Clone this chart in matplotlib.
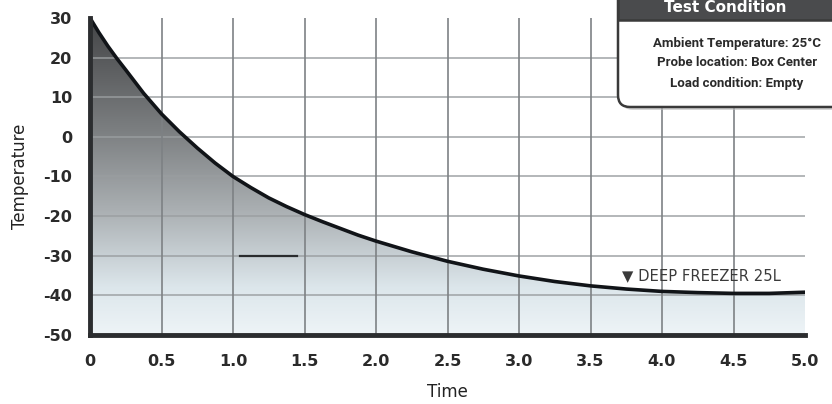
import numpy as np
import matplotlib
matplotlib.use("Agg")
import matplotlib.pyplot as plt
from matplotlib.patches import FancyBboxPatch, Rectangle
from matplotlib.colors import LinearSegmentedColormap

plt.rcParams["axes.unicode_minus"] = False

# ---- data ----
time = [0, 0.0625, 0.125, 0.1875, 0.25, 0.375, 0.5, 0.625, 0.75, 0.875, 1.0, 1.125, 1.25,
        1.375, 1.5, 1.625, 1.75, 1.875, 2.0, 2.25, 2.5, 2.75, 3.0, 3.25, 3.5, 3.75,
        4.0, 4.25, 4.5, 4.75, 5.0]
temperature = [30, 26.3, 22.9, 19.8, 16.9, 11.0, 5.8, 1.3, -2.8, -6.6, -10.0, -12.8, -15.4,
               -17.6, -19.6, -21.4, -23.1, -24.8, -26.3, -29.0, -31.4, -33.4, -35.1, -36.5,
               -37.6, -38.4, -39.0, -39.3, -39.5, -39.5, -39.2]
x_ticks = [0, 0.5, 1.0, 1.5, 2.0, 2.5, 3.0, 3.5, 4.0, 4.5, 5.0]
x_tick_labels = ["0", "0.5", "1.0", "1.5", "2.0", "2.5", "3.0", "3.5", "4.0", "4.5", "5.0"]
y_ticks = [30, 20, 10, 0, -10, -20, -30, -40, -50]
mark_x = [1.05, 1.45]
mark_y = [-30, -30]
series_label = "\u25BC DEEP FREEZER 25L"
box_title = "Test Condition"
box_lines = ["Ambient Temperature: 25\u00B0C", "Probe location: Box Center", "Load condition: Empty"]

W, H = 832, 404
fig = plt.figure(figsize=(W / 100, H / 100), dpi=100)
ax = fig.add_axes([90 / W, 1 - 335 / H, (805 - 90) / W, (335 - 18) / H])
ax.set_xlim(0, 5)
ax.set_ylim(-50, 30)

# gradient fill under curve
cmap = LinearSegmentedColormap.from_list(
    "g", [(0.0, "#eef4f7"), (0.15, "#dce6eb"), (0.4, "#a9aeb1"), (0.65, "#7b7e80"), (1.0, "#444547")])
grad = np.linspace(0, 1, 256).reshape(-1, 1)
im = ax.imshow(grad, cmap=cmap, origin="lower", extent=[0, 5, -50, 30], aspect="auto", zorder=1)
poly = ax.fill_between(time, temperature, -50, color="none", lw=0)
im.set_clip_path(poly.get_paths()[0], transform=ax.transData)

# grid
for yv in [20, 10, 0, -10, -20, -30, -40]:
    ax.axhline(yv, color="#9a9ea0", lw=1.3, zorder=2, alpha=0.8)
for xv in [0.5, 1.0, 1.5, 2.0, 2.5, 3.0, 3.5, 4.0, 4.5]:
    ax.axvline(xv, color="#7d8184", lw=1.4, zorder=2, alpha=0.85)

ax.plot(time, temperature, color="#111418", lw=2.6, zorder=4, solid_capstyle="round",
        solid_joinstyle="round")
ax.plot(mark_x, mark_y, color="#2a2c2e", lw=1.6, zorder=4)

ax.text(3.72, -34.9, series_label, fontsize=10.6, color="#3a3a3a", ha="left", va="center",
        family=["DejaVu Sans"], zorder=5)

for s in ["top", "right"]:
    ax.spines[s].set_visible(False)
for s in ["left", "bottom"]:
    ax.spines[s].set_linewidth(3.5)
    ax.spines[s].set_color("#2b2d2f")
    ax.spines[s].set_zorder(5)

ax.set_xticks(x_ticks)
ax.set_xticklabels(x_tick_labels)
ax.set_yticks(y_ticks)
ax.tick_params(length=0, labelsize=11.5, pad=14, colors="#2a2a2a")
ax.tick_params(axis="y", pad=13)
for lbl in ax.get_xticklabels() + ax.get_yticklabels():
    lbl.set_fontweight("bold")
ax.set_xlabel("Time", fontsize=12, color="#222222", labelpad=10)
ax.set_ylabel("Temperature", fontsize=12, color="#222222", labelpad=10)

# Test condition box (figure coords in pixels)
ov = fig.add_axes([0, 0, 1, 1], facecolor="none")
ov.set_xlim(0, W)
ov.set_ylim(H, 0)
ov.axis("off")
shadow = FancyBboxPatch((621, -30), 230, 140, boxstyle="round,pad=0,rounding_size=12",
                        fc="#bbbbbb", ec="none", alpha=0.6, zorder=1)
ov.add_patch(shadow)
box = FancyBboxPatch((618, -30), 230, 137, boxstyle="round,pad=0,rounding_size=12",
                     fc="white", ec="#3a3a3a", lw=1.8, zorder=2)
ov.add_patch(box)
header = Rectangle((618, -30), 230, 50, fc="#4a4b4d", ec="#3a3a3a", lw=1.8, zorder=3)
ov.add_patch(header)
ov.text(725, 8, box_title, color="white", fontsize=11, fontweight="bold", ha="center", va="center", zorder=4)
for i, t in enumerate(box_lines):
    ov.text(737, 43 + i * 20, t, color="#2a2a2a", fontsize=9.5,
            fontweight="bold", ha="center", va="center", zorder=4, family=["Roboto", "DejaVu Sans"])

fig.savefig("out.png", dpi=100)
